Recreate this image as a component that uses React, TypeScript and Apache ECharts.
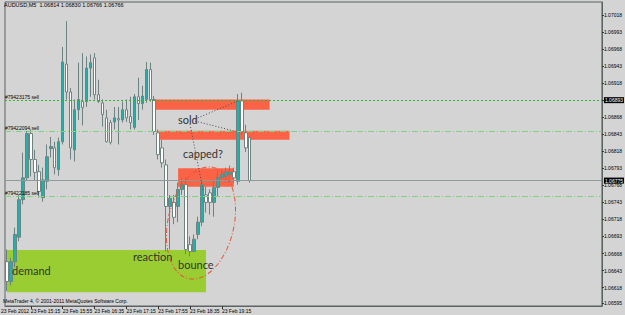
import React, { useEffect, useRef } from 'react';
import * as echarts from 'echarts';

// ---- data (AUDUSD, M5, 23 Feb 2012) ----
const TIMES = [
  '14:45', '14:50', '14:55', '15:00', '15:05', '15:10', '15:15', '15:20', '15:25', '15:30', '15:35', '15:40',
  '15:45', '15:50', '15:55', '16:00', '16:05', '16:10', '16:15', '16:20', '16:25', '16:30', '16:35', '16:40',
  '16:45', '16:50', '16:55', '17:00', '17:05', '17:10', '17:15', '17:20', '17:25', '17:30', '17:35', '17:40',
  '17:45', '17:50', '17:55', '18:00', '18:05', '18:10', '18:15', '18:20', '18:25', '18:30', '18:35', '18:40',
  '18:45', '18:50', '18:55', '19:00', '19:05', '19:10', '19:15', '19:20', '19:25', '19:30', '19:35', '19:40',
  '19:45', '19:50',
];
const OPEN = [
  1.06656, 1.06627, 1.06656, 1.06692, 1.06747, 1.06779, 1.06844, 1.06806, 1.06788, 1.0675, 1.06774, 1.06822,
  1.06823, 1.06791, 1.06832, 1.06946, 1.06905, 1.0682, 1.06879, 1.06891, 1.06891, 1.0694, 1.06955, 1.06901,
  1.06889, 1.06867, 1.0686, 1.06861, 1.06866, 1.06864, 1.06879, 1.06869, 1.06853, 1.06898, 1.06888, 1.06894,
  1.06938, 1.06894, 1.06845, 1.06823, 1.06798, 1.06737, 1.06743, 1.06737, 1.06762, 1.06769, 1.06681, 1.06671,
  1.06696, 1.06714, 1.06754, 1.06757, 1.06743, 1.06765, 1.06779, 1.06781, 1.06784, 1.06788, 1.06774, 1.06892,
  1.06845, 1.06838,
];
const CLOSE = [
  1.06627, 1.06656, 1.06696, 1.06747, 1.06779, 1.06844, 1.06806, 1.06787, 1.06759, 1.06776, 1.0681, 1.06825,
  1.06794, 1.06832, 1.06949, 1.06905, 1.06823, 1.06879, 1.06894, 1.06882, 1.0694, 1.06948, 1.06901, 1.06891,
  1.06872, 1.06832, 1.06831, 1.06867, 1.06864, 1.06879, 1.06867, 1.0686, 1.06898, 1.06888, 1.06899, 1.06938,
  1.06894, 1.06847, 1.06813, 1.06801, 1.06737, 1.06749, 1.06721, 1.06762, 1.06769, 1.06674, 1.06671, 1.06689,
  1.06714, 1.06769, 1.06743, 1.06743, 1.06765, 1.06779, 1.06784, 1.06788, 1.06787, 1.06779, 1.06892, 1.06847,
  1.06823, 1.06775,
];
const LOW = [
  1.06613, 1.06621, 1.06648, 1.06686, 1.0674, 1.06774, 1.06781, 1.06776, 1.0675, 1.06744, 1.06762, 1.06809,
  1.06784, 1.06782, 1.06828, 1.06894, 1.06806, 1.06803, 1.06864, 1.06856, 1.06883, 1.06898, 1.06894, 1.06889,
  1.06854, 1.06831, 1.06828, 1.0685, 1.06828, 1.0686, 1.06861, 1.0685, 1.0685, 1.06864, 1.06879, 1.06889,
  1.06891, 1.06842, 1.06806, 1.06794, 1.06671, 1.06674, 1.06711, 1.06714, 1.06754, 1.06667, 1.06664, 1.0667,
  1.06689, 1.06708, 1.06728, 1.06725, 1.06722, 1.06752, 1.06774, 1.06776, 1.06779, 1.06772, 1.06769, 1.06842,
  1.06817, 1.06772,
];
const HIGH = [
  1.06674, 1.06662, 1.06706, 1.06754, 1.06816, 1.06848, 1.0685, 1.0682, 1.06798, 1.06794, 1.06828, 1.06839,
  1.06832, 1.06838, 1.06971, 1.07009, 1.06911, 1.06894, 1.06948, 1.06962, 1.06957, 1.0696, 1.06962, 1.06923,
  1.06894, 1.06879, 1.06864, 1.06883, 1.06883, 1.06891, 1.06894, 1.06898, 1.06902, 1.06926, 1.06914, 1.06949,
  1.06948, 1.06899, 1.0685, 1.06835, 1.06806, 1.06754, 1.06754, 1.06772, 1.06779, 1.06779, 1.06693, 1.06696,
  1.06722, 1.06776, 1.06766, 1.06762, 1.06776, 1.06791, 1.06791, 1.06794, 1.06797, 1.06794, 1.06902, 1.06904,
  1.06857, 1.06842,
];

const Y_TICKS = [
  1.06595, 1.06618, 1.06643, 1.06668, 1.06693, 1.06718, 1.06743, 1.06768, 1.06793, 1.06818, 1.06843, 1.06868,
  1.06893, 1.06918, 1.06943, 1.06968, 1.06993, 1.07018,
];
const FIRST_DATE_LABEL = '23 Feb 2012';
const X_LABELS: Record<string, string> = {
  '15:15': '23 Feb 15:15',
  '15:55': '23 Feb 15:55',
  '16:35': '23 Feb 16:35',
  '17:15': '23 Feb 17:15',
  '17:55': '23 Feb 17:55',
  '18:35': '23 Feb 18:35',
  '19:15': '23 Feb 19:15',
};

const HEADER = 'AUDUSD,M5  1.06814 1.06830 1.06766 1.06766';
const COPYRIGHT = 'MetaTrader 4, \u00a9 2001-2011 MetaQuotes Software Corp.';

const ORDER_NAMES = ['#79423175 sell', '#79422094 sell', '#79422185 sell'];
const ORDER_PRICES = [1.06893, 1.06847, 1.06752];
const BID = 1.06775;

// zones: [fromTime, toTime, lowPrice, highPrice]
const RED_ZONES: [string, string, number, number][] = [
  ['17:50', '20:15', 1.06879, 1.06894],
  ['17:55', '20:40', 1.06835, 1.06848],
  ['18:20', '19:30', 1.06766, 1.06793],
];
const DEMAND_ZONE: [string, string, number, number] = ['14:45', '18:55', 1.06611, 1.06673];

const TOTAL_SLOTS = 150;

function addMinutes(t: string, m: number) {
  const [h, mm] = t.split(':').map(Number);
  const tot = h * 60 + mm + m;
  const hh = Math.floor(tot / 60) % 24;
  const mi = tot % 60;
  return `${String(hh).padStart(2, '0')}:${String(mi).padStart(2, '0')}`;
}

const FONT = 'Liberation Sans, Arial, sans-serif';

function buildOption() {
  const cats = [...TIMES];
  while (cats.length < TOTAL_SLOTS) cats.push(addMinutes(cats[cats.length - 1], 5));
  const candles = TIMES.map((_, i) => [OPEN[i], CLOSE[i], LOW[i], HIGH[i]]);
  const showLabel = (_i: number, v: string) => v in X_LABELS;
  const small = { fontFamily: FONT, fontSize: 5, color: '#000' };
  const annot = (text: string, x: number, y: number) => ({
    type: 'text',
    x,
    y,
    style: { text, fill: '#333333', fontSize: 11, fontFamily: 'Lato, sans-serif', verticalAlign: 'middle' },
    z: 20,
  });
  const dotted = (x1: number, y1: number, x2: number, y2: number) => ({
    type: 'line',
    shape: { x1, y1, x2, y2 },
    style: { stroke: '#4a4a4a', lineWidth: 1, lineDash: [1, 2] },
    z: 20,
  });

  const orderLines: any[] = [];
  ORDER_NAMES.forEach((name, i) => {
    orderLines.push({
      yAxis: ORDER_PRICES[i],
      lineStyle: i === 0
        ? { color: '#33b533', type: [2, 2], width: 1 }
        : { color: '#7fd27f', type: [6, 2, 1, 2], width: 1 },
      label: { show: true, position: 'insideStartTop', formatter: name, distance: [0, 1], ...small },
    });
  });
  orderLines.push({
    yAxis: ORDER_PRICES[0],
    lineStyle: { color: 'rgba(0,0,0,0)', width: 1 },
    label: {
      show: true, position: 'end', formatter: ORDER_PRICES[0].toFixed(5), distance: 2,
      backgroundColor: '#000', padding: [1, 1, 0, 1], ...small, color: '#fff',
    },
  });
  orderLines.push({
    yAxis: BID,
    lineStyle: { color: '#8d9b9b', type: 'solid', width: 1 },
    label: {
      show: true, position: 'end', formatter: BID.toFixed(5), distance: 2,
      backgroundColor: '#000', padding: [1, 1, 0, 1], ...small, color: '#fff',
    },
  });

  const zoneItem = (z: [string, string, number, number], color: string) => [
    { xAxis: z[0], yAxis: z[3], itemStyle: { color, opacity: 1 } },
    { xAxis: z[1], yAxis: z[2] },
  ];

  return {
    animation: false,
    backgroundColor: '#d4d4d4',
    grid: { left: 5, right: 19, top: 2, bottom: 9, show: true, borderColor: '#5a6262', borderWidth: 1 },
    xAxis: {
      type: 'category',
      data: cats,
      boundaryGap: true,
      axisLine: { show: true, lineStyle: { color: '#5a6262' } },
      axisTick: { show: true, interval: showLabel, alignWithLabel: true, length: 3, lineStyle: { color: '#333' } },
      axisLabel: {
        show: true, interval: showLabel, formatter: (v: string) => X_LABELS[v] || '', align: 'left', margin: 2, ...small,
      },
      splitLine: { show: false },
    },
    yAxis: {
      type: 'value',
      position: 'right',
      min: 1.06591,
      max: 1.07037,
      scale: true,
      axisLine: { show: true, lineStyle: { color: '#5a6262' } },
      axisTick: { show: true, customValues: Y_TICKS, length: 2, lineStyle: { color: '#333' } },
      axisLabel: { show: true, customValues: Y_TICKS, formatter: (v: number) => v.toFixed(5), margin: 2, ...small },
      splitLine: { show: false },
    },
    series: [
      {
        type: 'line',
        data: [],
        z: 1,
        silent: true,
        markArea: {
          silent: true,
          data: [
            zoneItem(DEMAND_ZONE, '#9acd32'),
            ...RED_ZONES.map((z) => zoneItem(z, '#fb6347')),
          ],
        },
      },
      {
        type: 'candlestick',
        data: candles,
        barWidth: 3,
        z: 3,
        itemStyle: {
          color: '#20b2aa',
          color0: '#ffffff',
          borderColor: '#6f8282',
          borderColor0: '#6f8282',
          borderWidth: 1,
        },
      },
      {
        type: 'line',
        data: [],
        z: 4,
        silent: true,
        markLine: {
          silent: true,
          precision: 5,
          symbol: ['none', 'none'],
          data: orderLines,
        },
      },
    ],
    graphic: [
      { type: 'text', x: 4, y: 2, style: { text: HEADER, fontSize: 5.5, fontFamily: FONT, fill: '#000' }, z: 30 },
      { type: 'text', x: 3, y: 298, style: { text: COPYRIGHT, fontSize: 5, fontFamily: FONT, fill: '#000' }, z: 30 },
      { type: 'text', x: 1, y: 308, style: { text: FIRST_DATE_LABEL, fontSize: 5, fontFamily: FONT, fill: '#000' }, z: 30 },
      {
        type: 'ellipse',
        x: 201,
        y: 223,
        rotation: -0.22,
        shape: { cx: 0, cy: 0, rx: 33, ry: 57 },
        style: { fill: 'none', stroke: '#e4553c', lineWidth: 1, lineDash: [5, 2, 1, 2] },
        z: 20,
      },
      dotted(195, 119, 238, 101),
      dotted(195, 121, 238, 132),
      dotted(190, 124, 203, 190),
      annot('demand', 12, 270),
      annot('reaction', 133, 256),
      annot('bounce', 178, 264),
      annot('sold', 178, 119),
      annot('capped?', 183, 153),
    ],
  };
}

export default function App() {
  const ref = useRef<HTMLDivElement>(null);
  useEffect(() => {
    if (!ref.current) return;
    const chart = echarts.init(ref.current, null, { renderer: 'svg' });
    chart.setOption(buildOption() as any);
    return () => chart.dispose();
  }, []);
  return (
    <div
      ref={ref}
      style={{ position: 'fixed', left: 0, top: 0, width: 625, height: 315, background: '#d4d4d4' }}
    />
  );
}
